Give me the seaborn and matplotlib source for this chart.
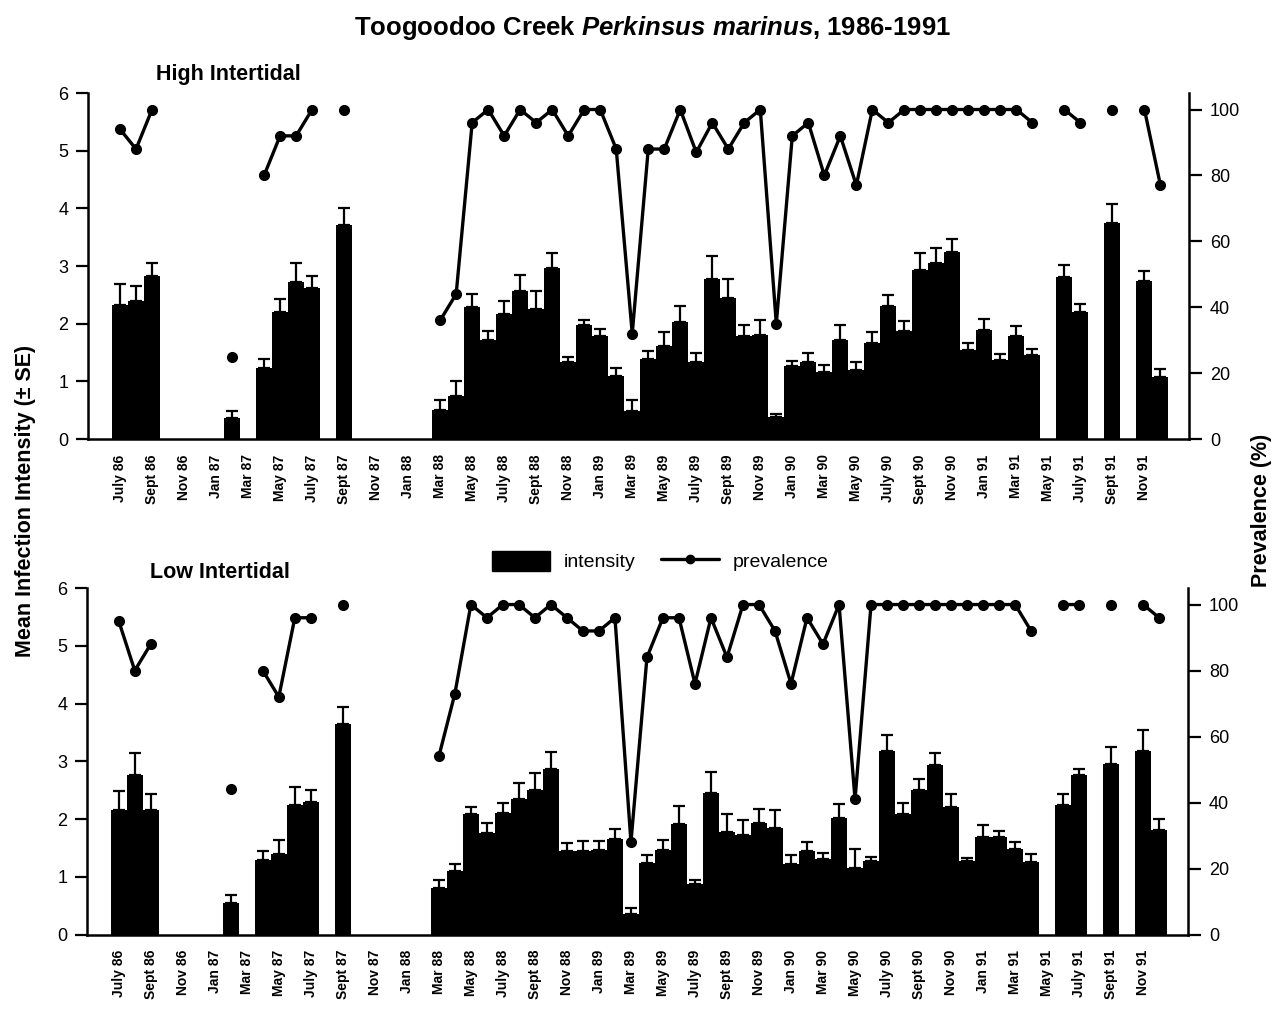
import numpy as np
import pandas as pd
import matplotlib
matplotlib.use("Agg")
import matplotlib.pyplot as plt
from matplotlib.patches import Patch
from matplotlib.lines import Line2D
import seaborn as sns

nan = np.nan

# Monthly samples, July 1986 (index 0) through December 1991 (index 65)
tick_labels = [
    "July 86", "Sept 86", "Nov 86", "Jan 87", "Mar 87", "May 87", "July 87",
    "Sept 87", "Nov 87", "Jan 88", "Mar 88", "May 88", "July 88", "Sept 88",
    "Nov 88", "Jan 89", "Mar 89", "May 89", "July 89", "Sept 89", "Nov 89",
    "Jan 90", "Mar 90", "May 90", "July 90", "Sept 90", "Nov 90", "Jan 91",
    "Mar 91", "May 91", "July 91", "Sept 91", "Nov 91",
]

high_intensity = [
    2.32, 2.40, 2.83, nan, nan, nan, nan, 0.36, nan, 1.23,
    2.20, 2.72, 2.62, nan, 3.72, nan, nan, nan, nan, nan,
    0.50, 0.74, 2.29, 1.71, 2.17, 2.56, 2.26, 2.96, 1.33, 1.98,
    1.79, 1.10, 0.49, 1.38, 1.62, 2.03, 1.34, 2.77, 2.44, 1.78,
    1.81, 0.38, 1.26, 1.34, 1.16, 1.72, 1.19, 1.67, 2.31, 1.87,
    2.93, 3.06, 3.24, 1.54, 1.89, 1.37, 1.78, 1.45, nan, 2.81,
    2.20, nan, 3.74, nan, 2.74, 1.07,
]
high_se = [
    0.37, 0.25, 0.22, nan, nan, nan, nan, 0.13, nan, 0.16,
    0.23, 0.33, 0.21, nan, 0.29, nan, nan, nan, nan, nan,
    0.18, 0.26, 0.22, 0.16, 0.23, 0.28, 0.30, 0.27, 0.09, 0.09,
    0.11, 0.13, 0.19, 0.15, 0.24, 0.27, 0.16, 0.41, 0.34, 0.20,
    0.26, 0.05, 0.10, 0.15, 0.12, 0.26, 0.14, 0.18, 0.19, 0.18,
    0.29, 0.26, 0.22, 0.12, 0.19, 0.10, 0.18, 0.11, nan, 0.20,
    0.14, nan, 0.34, nan, 0.17, 0.14,
]
high_prevalence = [
    94, 88, 100, nan, nan, nan, nan, 25, nan, 80,
    92, 92, 100, nan, 100, nan, nan, nan, nan, nan,
    36, 44, 96, 100, 92, 100, 96, 100, 92, 100,
    100, 88, 32, 88, 88, 100, 87, 96, 88, 96,
    100, 35, 92, 96, 80, 92, 77, 100, 96, 100,
    100, 100, 100, 100, 100, 100, 100, 96, nan, 100,
    96, nan, 100, nan, 100, 77,
]

low_intensity = [
    2.16, 2.77, 2.16, nan, nan, nan, nan, 0.55, nan, 1.29,
    1.39, 2.24, 2.29, nan, 3.64, nan, nan, nan, nan, nan,
    0.81, 1.10, 2.09, 1.76, 2.11, 2.34, 2.51, 2.86, 1.44, 1.44,
    1.47, 1.66, 0.35, 1.24, 1.46, 1.92, 0.87, 2.45, 1.77, 1.73,
    1.93, 1.85, 1.23, 1.44, 1.31, 2.02, 1.15, 1.27, 3.17, 2.08,
    2.50, 2.93, 2.21, 1.27, 1.69, 1.69, 1.48, 1.25, nan, 2.25,
    2.77, nan, 2.96, nan, 3.17, 1.81,
]
low_se = [
    0.33, 0.38, 0.27, nan, nan, nan, nan, 0.14, nan, 0.15,
    0.25, 0.32, 0.21, nan, 0.30, nan, nan, nan, nan, nan,
    0.14, 0.13, 0.12, 0.17, 0.17, 0.29, 0.29, 0.30, 0.14, 0.18,
    0.15, 0.16, 0.11, 0.14, 0.17, 0.31, 0.08, 0.36, 0.32, 0.25,
    0.25, 0.30, 0.15, 0.16, 0.10, 0.24, 0.33, 0.07, 0.28, 0.20,
    0.20, 0.22, 0.23, 0.06, 0.20, 0.10, 0.12, 0.14, nan, 0.19,
    0.10, nan, 0.29, nan, 0.37, 0.19,
]
low_prevalence = [
    95, 80, 88, nan, nan, nan, nan, 44, nan, 80,
    72, 96, 96, nan, 100, nan, nan, nan, nan, nan,
    54, 73, 100, 96, 100, 100, 96, 100, 96, 92,
    92, 96, 28, 84, 96, 96, 76, 96, 84, 100,
    100, 92, 76, 96, 88, 100, 41, 100, 100, 100,
    100, 100, 100, 100, 100, 100, 100, 92, nan, 100,
    100, nan, 100, nan, 100, 96,
]

sns.set_style("ticks")
plt.rcParams["font.family"] = ["Liberation Sans", "DejaVu Sans"]
plt.rcParams["mathtext.fontset"] = "custom"
plt.rcParams["mathtext.rm"] = "Liberation Sans:bold"
plt.rcParams["mathtext.it"] = "Liberation Sans:italic:bold"
plt.rcParams["mathtext.bf"] = "Liberation Sans:bold"
for key in ("text.color", "axes.labelcolor", "xtick.color", "ytick.color",
            "axes.edgecolor"):
    plt.rcParams[key] = "black"

fig = plt.figure(figsize=(12.85, 10.09), dpi=100)
fig.patch.set_facecolor("white")

panels = [
    ("High Intertidal", high_intensity, high_se, high_prevalence,
     [0.0685, 0.5649, 0.857, 0.3429], (0.178, 0.926)),
    ("Low Intertidal", low_intensity, low_se, low_prevalence,
     [0.0675, 0.0738, 0.857, 0.3434], (0.171, 0.433)),
]

n_months = len(high_intensity)
months = np.arange(n_months)

for name, inten, se, prev, rect, title_xy in panels:
    ax = fig.add_axes(rect)
    df = pd.DataFrame({"month": months, "intensity": inten, "se": se})
    present = df.dropna(subset=["intensity"])
    sns.barplot(data=present, x="month", y="intensity", order=list(months),
                color="black", width=1.0, errorbar=None, linewidth=0,
                saturation=1, ax=ax)
    ax.errorbar(present["month"], present["intensity"],
                yerr=[np.zeros(len(present)), present["se"]],
                fmt="none", ecolor="black", elinewidth=1.6,
                capsize=4.5, capthick=1.6)

    ax.set_xlim(-2, 66.8)
    ax.set_ylim(0, 6)
    ax.set_yticks(range(0, 7))
    ax.set_xticks(np.arange(0, n_months, 2))
    ax.set_xticklabels(tick_labels, rotation=90, fontsize=10,
                       fontweight="bold")
    ax.tick_params(axis="x", length=0, pad=11)
    ax.tick_params(axis="y", length=9, width=1.6, labelsize=13, pad=5,
                   direction="out")
    ax.set_xlabel("")
    ax.set_ylabel("")
    for s in ("top", "right"):
        ax.spines[s].set_visible(False)
    for s in ("left", "bottom"):
        ax.spines[s].set_linewidth(1.8)
    ax.set_facecolor("none")

    ax2 = ax.twinx()
    ax2.plot(months, prev, "-o", color="black", lw=2.4, ms=7)
    ax2.set_ylim(0, 105)
    ax2.set_yticks(range(0, 101, 20))
    ax2.tick_params(axis="y", length=9, width=1.6, labelsize=13, pad=6,
                    direction="out")
    for s in ("top", "left", "bottom"):
        ax2.spines[s].set_visible(False)
    ax2.spines["right"].set_linewidth(1.8)

    fig.text(title_xy[0], title_xy[1], name, ha="center", va="center",
             fontsize=15.5, fontweight="bold")

fig.text(0.508, 0.972,
         r"Toogoodoo Creek $\it{Perkinsus\ marinus}$, 1986-1991",
         ha="center", va="center", fontsize=18.5, fontweight="bold")
fig.text(0.0195, 0.504, "Mean Infection Intensity (± SE)", rotation=90,
         ha="center", va="center", fontsize=15.5, fontweight="bold")
fig.text(0.982, 0.494, "Prevalence (%)", rotation=90,
         ha="center", va="center", fontsize=15.5, fontweight="bold")

handles = [
    Patch(facecolor="black", edgecolor="black", label="intensity"),
    Line2D([0], [0], color="black", lw=2.4, marker="o", ms=6,
           label="prevalence"),
]
fig.legend(handles=handles, loc="center", bbox_to_anchor=(0.514, 0.444),
           ncol=2, frameon=False, fontsize=14, handlelength=3.0,
           handleheight=1.2, columnspacing=1.3, handletextpad=0.7)

fig.savefig("out.png", dpi=100, facecolor="white")
